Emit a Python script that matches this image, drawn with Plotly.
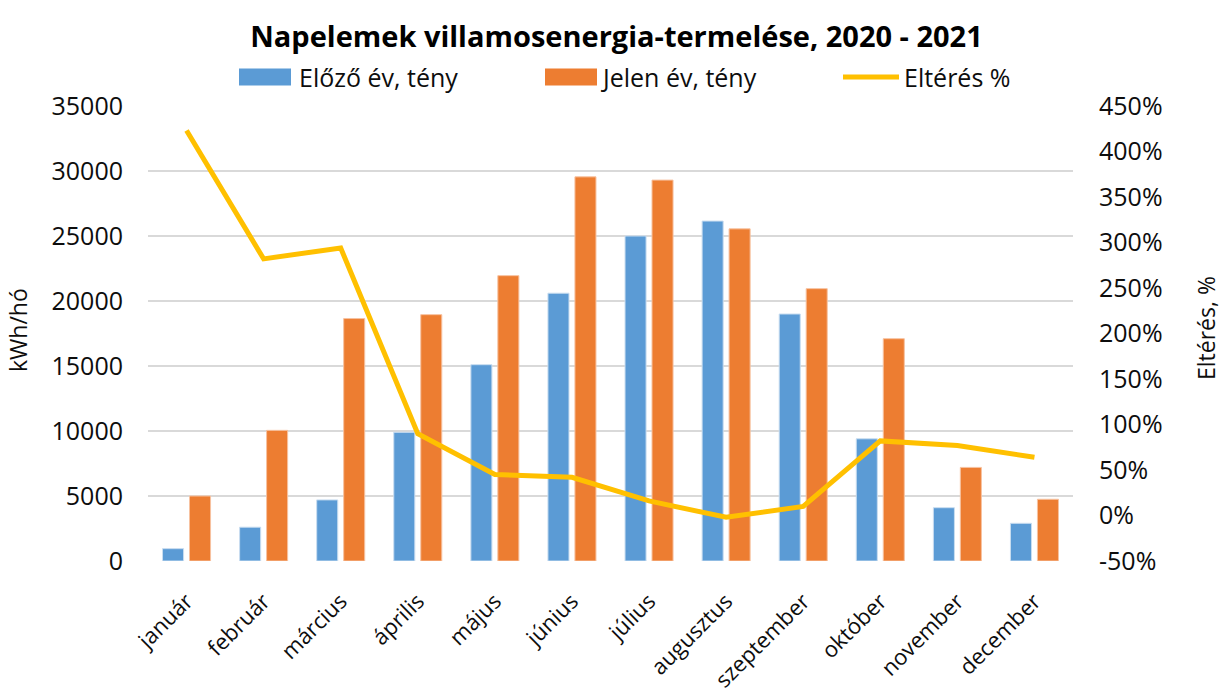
import plotly.graph_objects as go

months = ["január", "február", "március", "április", "május", "június",
          "július", "augusztus", "szeptember", "október", "november", "december"]
prev_year = [950, 2600, 4700, 9900, 15100, 20600, 25000, 26150, 19000, 9400, 4100, 2900]
curr_year = [5000, 10050, 18650, 18950, 21950, 29550, 29300, 25550, 20950, 17100, 7200, 4750]
diff_pct = [423, 282, 294, 90, 45, 42, 16, -2, 10, 82, 77, 64]

pct_tick_vals = [-50, 0, 50, 100, 150, 200, 250, 300, 350, 400, 450]
pct_tick_text = ["-50%", "0%", "50%", "100%", "150%", "200%", "250%", "300%",
                 "350%", "400%", "450%"]

series_names = ["Előző év, tény", "Jelen év, tény", "Eltérés %"]
axis_titles = ["kWh/hó", "Eltérés, %"]
colors = ["#5B9BD5", "#ED7D31", "#FFC000"]

FONT = "Open Sans"
TXT = "#0d0d0d"

# figure / plot-area geometry (page body margin removed via post_script)
W, H = 1223, 698
ML, MR, MT, MB = 148, 150, 106, 137
PW, PH = W - ML - MR, H - MT - MB


def px(fx):
    return (fx - ML) / PW


def py(fy):
    return (H - MB - fy) / PH


fig = go.Figure()
fig.add_trace(go.Bar(x=months, y=prev_year, name=series_names[0], showlegend=False,
                     marker=dict(color=colors[0], line=dict(color="#C9DDF0", width=1))))
fig.add_trace(go.Bar(x=months, y=curr_year, name=series_names[1], showlegend=False,
                     marker=dict(color=colors[1], line=dict(color="#F7C2A0", width=1))))
fig.add_trace(go.Scatter(x=months, y=diff_pct, name=series_names[2], yaxis="y2",
                         showlegend=False, mode="lines",
                         line=dict(color=colors[2], width=5)))

# legend drawn as shapes + text (large swatches like the original)
leg_y = 77
sw = [(239, 291), (545, 597), (843, 899)]
txt_x = [298, 600, 903]
shapes = []
annotations = []
for i in range(3):
    x0, x1 = sw[i]
    if i < 2:
        shapes.append(dict(type="rect", xref="paper", yref="paper",
                           x0=px(x0), x1=px(x1), y0=py(leg_y + 8.5), y1=py(leg_y - 8.5),
                           fillcolor=colors[i], line=dict(width=0)))
    else:
        shapes.append(dict(type="line", xref="paper", yref="paper",
                           x0=px(x0), x1=px(x1), y0=py(leg_y), y1=py(leg_y),
                           line=dict(color=colors[i], width=5)))
    annotations.append(dict(text=series_names[i], xref="paper", yref="paper",
                            x=px(txt_x[i]), y=py(leg_y), xanchor="left", yanchor="middle",
                            showarrow=False, borderpad=0,
                            font=dict(size=25, family=FONT, color=TXT)))

# axis titles as rotated text
for t, (cx, cy) in zip(axis_titles, [(18, 330), (1206, 328)]):
    annotations.append(dict(text=t, xref="paper", yref="paper", x=px(cx), y=py(cy),
                            xanchor="center", yanchor="middle", textangle=-90,
                            showarrow=False, borderpad=0,
                            font=dict(size=23, family=FONT, color=TXT)))

fig.update_layout(
    width=W, height=H,
    paper_bgcolor="white", plot_bgcolor="white",
    margin=dict(l=ML, r=MR, t=MT, b=MB, autoexpand=False),
    font=dict(family=FONT, color=TXT, size=22),
    title=dict(text="<b>Napelemek villamosenergia-termelése, 2020 - 2021</b>",
               x=616.5 / W, xanchor="center", y=1 - 37 / H, yanchor="middle",
               font=dict(size=29, family=FONT, color="#000")),
    barmode="group", bargap=0.30, bargroupgap=0.22,
    showlegend=False,
    shapes=shapes, annotations=annotations,
    xaxis=dict(tickangle=-45, showgrid=False, showline=False, ticks="",
               tickfont=dict(size=22), ticklabelstandoff=22),
    yaxis=dict(range=[0, 35000], dtick=5000, tickformat="d", showgrid=True,
               gridcolor="#D9D9D9", gridwidth=1.5, zeroline=False, showline=False,
               ticks="", tickfont=dict(size=25), ticklabelstandoff=24),
    yaxis2=dict(range=[-50, 450], tickmode="array", tickvals=pct_tick_vals,
                ticktext=pct_tick_text, overlaying="y", side="right",
                showgrid=False, zeroline=False, showline=False, ticks="",
                tickfont=dict(size=25), ticklabelstandoff=25),
)

fig.write_html("out.html",
               config={"displayModeBar": False},
               post_script="document.body.style.margin='0';"
                           "document.body.style.overflow='hidden';")
